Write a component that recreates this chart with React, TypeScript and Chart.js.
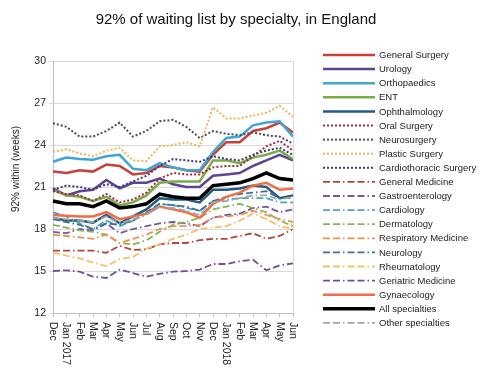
import React, { useEffect, useRef } from 'react';
import { Chart, registerables } from 'chart.js';

Chart.register(...registerables);

const months = ['Dec', 'Jan 2017', 'Feb', 'Mar', 'Apr', 'May', 'Jun', 'Jul', 'Aug', 'Sep', 'Oct', 'Nov', 'Dec', 'Jan 2018', 'Feb', 'Mar', 'Apr', 'May', 'Jun'];
const yMin = 12;
const yMax = 30;
const yStep = 3;

const generalSurgery = [22.1, 22.0, 22.2, 22.1, 22.6, 22.5, 21.9, 22.0, 22.5, 22.4, 22.2, 22.1, 23.3, 24.2, 24.2, 25.0, 25.2, 25.6, 24.9];
const urology = [20.9, 20.4, 20.7, 20.8, 21.5, 20.9, 21.3, 21.3, 21.6, 21.2, 21.0, 21.0, 21.8, 21.9, 22.0, 22.5, 22.9, 23.3, 22.9];
const orthopaedics = [22.8, 23.1, 23.0, 22.95, 23.2, 23.3, 22.3, 22.2, 22.7, 22.4, 22.2, 22.2, 23.5, 24.5, 24.6, 25.4, 25.6, 25.7, 24.6];
const ent = [20.8, 20.4, 20.3, 20.0, 20.3, 19.7, 19.9, 20.4, 21.3, 21.4, 21.4, 21.4, 22.9, 22.9, 22.7, 23.1, 23.3, 23.6, 23.0];
const ophthalmology = [18.8, 18.6, 18.6, 18.45, 19.0, 18.4, 18.9, 19.4, 20.2, 20.1, 20.1, 19.9, 20.8, 20.8, 20.9, 21.1, 21.0, 20.2, 20.4];
const oralSurgery = [20.7, 20.5, 20.4, 20.0, 20.5, 19.9, 20.1, 20.6, 21.6, 22.0, 21.9, 21.9, 22.4, 22.5, 22.5, 23.2, 23.9, 24.3, 23.6];
const neurosurgery = [25.55, 25.3, 24.6, 24.6, 25.0, 25.6, 24.6, 25.0, 25.7, 25.8, 25.3, 24.5, 25.0, 24.8, 24.7, 24.9, 24.7, 24.6, 24.1];
const plasticSurgery = [23.5, 23.7, 23.4, 23.2, 23.6, 23.8, 22.9, 22.85, 23.9, 24.0, 24.2, 23.9, 26.7, 25.9, 25.9, 26.1, 26.3, 26.8, 26.0];
const cardiothoracicSurgery = [20.8, 21.1, 21.0, 20.8, 21.2, 21.0, 21.4, 21.8, 22.5, 23.0, 22.9, 22.8, 23.2, 23.0, 22.9, 23.3, 23.6, 23.8, 23.3];
const generalMedicine = [16.45, 16.45, 16.45, 16.45, 16.3, 16.8, 16.5, 16.55, 16.9, 17.0, 17.0, 17.2, 17.3, 17.3, 17.5, 17.7, 17.3, 17.5, 18.0];
const gastroenterology = [17.8, 17.7, 18.0, 17.9, 18.4, 17.7, 18.0, 18.2, 18.4, 18.5, 18.4, 18.2, 18.8, 19.0, 19.1, 19.5, 19.6, 19.2, 19.4];
const cardiology = [19.2, 18.9, 18.4, 18.0, 18.6, 18.2, 18.6, 19.1, 19.8, 19.7, 19.5, 19.3, 20.0, 20.1, 20.2, 20.2, 20.2, 19.9, 19.9];
const dermatology = [18.3, 18.1, 17.9, 17.8, 17.6, 17.0, 16.9, 17.2, 17.8, 18.3, 18.5, 18.8, 19.4, 19.6, 19.8, 19.5, 19.2, 18.6, 18.2];
const respiratoryMedicine = [17.6, 17.5, 17.4, 17.3, 17.6, 17.0, 17.3, 17.6, 18.0, 18.2, 18.2, 18.3, 18.8, 18.9, 19.0, 19.3, 19.0, 18.7, 18.5];
const neurology = [18.7, 18.5, 18.3, 18.0, 18.4, 18.3, 18.6, 19.2, 19.8, 19.7, 19.6, 19.3, 20.0, 20.3, 20.5, 20.6, 20.7, 20.2, 20.2];
const rheumatology = [16.3, 16.1, 15.9, 15.6, 15.35, 15.85, 16.0, 16.6, 16.9, 17.3, 17.6, 18.0, 18.1, 18.2, 18.6, 19.1, 18.7, 18.2, 18.0];
const geriatricMedicine = [15.0, 15.05, 14.95, 14.6, 14.5, 15.1, 14.85, 14.6, 14.8, 14.95, 15.0, 15.1, 15.5, 15.5, 15.7, 15.8, 15.05, 15.4, 15.55];
const gynaecology = [19.0, 18.95, 18.9, 18.9, 19.2, 18.7, 18.9, 19.1, 19.6, 19.4, 19.2, 18.8, 19.8, 20.3, 20.6, 21.1, 21.3, 20.8, 20.9];
const allSpecialties = [20.0, 19.8, 19.8, 19.6, 20.0, 19.5, 19.6, 19.8, 20.5, 20.3, 20.2, 20.2, 21.1, 21.2, 21.3, 21.6, 22.0, 21.6, 21.5];
const otherSpecialties = [18.8, 18.7, 18.6, 18.5, 18.9, 18.4, 18.7, 19.0, 19.6, 19.5, 19.3, 19.0, 19.9, 20.0, 20.2, 20.4, 20.4, 20.1, 20.3];

const SOLID: number[] = [];
const DOT = [2, 2];
const DASHDOT = [7, 3, 7, 3, 1.5, 3];

const seriesList = [
  { label: 'General Surgery', data: generalSurgery, color: '#c9403b', dash: SOLID, width: 2.5 },
  { label: 'Urology', data: urology, color: '#5f4393', dash: SOLID, width: 2.5 },
  { label: 'Orthopaedics', data: orthopaedics, color: '#3ea6d4', dash: SOLID, width: 2.5 },
  { label: 'ENT', data: ent, color: '#78ad45', dash: SOLID, width: 2.5 },
  { label: 'Ophthalmology', data: ophthalmology, color: '#235a88', dash: SOLID, width: 2.5 },
  { label: 'Oral Surgery', data: oralSurgery, color: '#a52a3e', dash: DOT, width: 2 },
  { label: 'Neurosurgery', data: neurosurgery, color: '#454a5a', dash: DOT, width: 2 },
  { label: 'Plastic Surgery', data: plasticSurgery, color: '#f2b457', dash: DOT, width: 2 },
  { label: 'Cardiothoracic Surgery', data: cardiothoracicSurgery, color: '#3b3878', dash: DOT, width: 2 },
  { label: 'General Medicine', data: generalMedicine, color: '#b8423f', dash: DASHDOT, width: 1.8 },
  { label: 'Gastroenterology', data: gastroenterology, color: '#75589c', dash: DASHDOT, width: 1.8 },
  { label: 'Cardiology', data: cardiology, color: '#46a9c4', dash: DASHDOT, width: 1.8 },
  { label: 'Dermatology', data: dermatology, color: '#84b552', dash: DASHDOT, width: 1.8 },
  { label: 'Respiratory Medicine', data: respiratoryMedicine, color: '#ea9158', dash: DASHDOT, width: 1.8 },
  { label: 'Neurology', data: neurology, color: '#3f7099', dash: DASHDOT, width: 1.8 },
  { label: 'Rheumatology', data: rheumatology, color: '#f4c261', dash: DASHDOT, width: 1.8 },
  { label: 'Geriatric Medicine', data: geriatricMedicine, color: '#6f4f9e', dash: DASHDOT, width: 1.8 },
  { label: 'Gynaecology', data: gynaecology, color: '#f26c45', dash: SOLID, width: 2.5 },
  { label: 'All specialties', data: allSpecialties, color: '#000000', dash: SOLID, width: 3.5 },
  { label: 'Other specialties', data: otherSpecialties, color: '#a6a6a6', dash: DASHDOT, width: 1.8 },
];

const FONT = '"Liberation Sans", Arial, Helvetica, sans-serif';

const decorPlugin = {
  id: 'decor',
  afterDraw(chart: any) {
    const ctx = chart.ctx as CanvasRenderingContext2D;
    const area = chart.chartArea;
    const xs = chart.scales.x;
    ctx.save();
    // right frame line
    ctx.strokeStyle = '#d9d9d9';
    ctx.lineWidth = 1;
    ctx.beginPath();
    ctx.moveTo(Math.round(area.right) + 0.5, area.top);
    ctx.lineTo(Math.round(area.right) + 0.5, area.bottom);
    ctx.stroke();

    // title
    ctx.fillStyle = '#111';
    ctx.font = `15px ${FONT}`;
    ctx.textAlign = 'center';
    ctx.textBaseline = 'middle';
    ctx.fillText('92% of waiting list by specialty, in England', 236, 20);

    // y axis title
    ctx.save();
    ctx.translate(16, 169);
    ctx.rotate(-Math.PI / 2);
    ctx.font = `10px ${FONT}`;
    ctx.fillStyle = '#222';
    ctx.fillText('92% within (weeks)', 0, 0);
    ctx.restore();

    // x tick labels, rotated clockwise
    ctx.font = `10.5px ${FONT}`;
    ctx.fillStyle = '#222';
    ctx.textAlign = 'left';
    ctx.textBaseline = 'middle';
    months.forEach((m, i) => {
      const x = xs.getPixelForTick(i);
      ctx.save();
      ctx.translate(x, area.bottom + 9);
      ctx.rotate(Math.PI / 2);
      ctx.fillText(m, 0, 0);
      ctx.restore();
    });

    // legend
    const ds = chart.data.datasets;
    ctx.font = `9.5px ${FONT}`;
    ctx.textAlign = 'left';
    ctx.textBaseline = 'middle';
    ds.forEach((d: any, i: number) => {
      const y = 55 + i * 14.1;
      ctx.save();
      ctx.strokeStyle = d.borderColor;
      ctx.lineWidth = d.borderWidth;
      ctx.setLineDash(d.borderDash || []);
      ctx.beginPath();
      ctx.moveTo(323, y);
      ctx.lineTo(375, y);
      ctx.stroke();
      ctx.restore();
      ctx.fillStyle = '#222';
      ctx.fillText(d.label, 379, y + 0.5);
    });
    ctx.restore();
  },
};

export default function App() {
  const ref = useRef<HTMLCanvasElement | null>(null);
  useEffect(() => {
    document.body.style.margin = '0';
    if (!ref.current) return;
    const n = seriesList.length;
    const chart = new Chart(ref.current, {
      type: 'line',
      data: {
        labels: months,
        datasets: seriesList.map((s, i) => ({
          label: s.label,
          data: s.data,
          borderColor: s.color,
          backgroundColor: s.color,
          borderWidth: s.width,
          borderDash: s.dash,
          pointRadius: 0,
          tension: 0,
          fill: false,
          order: s.label === 'All specialties' ? -1 : n - i,
        })),
      },
      options: {
        responsive: false,
        animation: false,
        layout: { padding: { left: 0, right: 187, top: 61, bottom: 0 } },
        plugins: { legend: { display: false }, title: { display: false }, tooltip: { enabled: false } },
        scales: {
          x: {
            type: 'category',
            offset: false,
            grid: { drawOnChartArea: false, drawTicks: true, tickLength: 4, color: '#bfbfbf' },
            border: { display: true, color: '#bfbfbf' },
            ticks: { display: false, autoSkip: false },
            afterFit: (s: any) => { s.height = 56; },
          },
          y: {
            min: yMin,
            max: yMax,
            grid: { color: '#d9d9d9', tickLength: 4, drawTicks: true },
            border: { display: true, color: '#bfbfbf' },
            ticks: { stepSize: yStep, padding: 3, color: '#222', font: { size: 10.5, family: FONT } },
            afterFit: (s: any) => { s.width = 53; },
          },
        },
      },
      plugins: [decorPlugin],
    });
    return () => chart.destroy();
  }, []);
  return (
    <div style={{ width: 480, height: 369 }}>
      <canvas ref={ref} width={480} height={369} />
    </div>
  );
}
